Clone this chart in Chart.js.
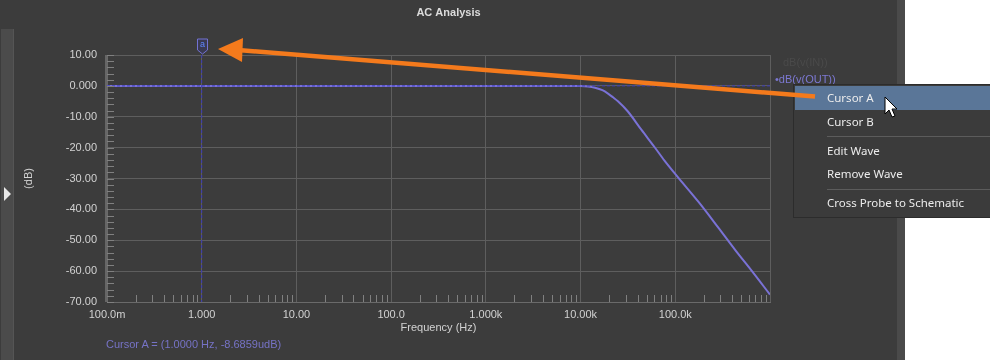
<!DOCTYPE html>
<html>
<head>
<meta charset="utf-8">
<script src="https://cdn.jsdelivr.net/npm/chart.js@4"></script>
<style>
  html,body{margin:0;padding:0;background:#ffffff;width:990px;height:360px;overflow:hidden;font-family:"Liberation Sans",Arial,sans-serif;}
  #panel{position:absolute;left:0;top:0;width:897px;height:360px;background:#3c3c3c;}
  #rstrip{position:absolute;left:897px;top:0;width:8px;height:360px;background:#4a4a4a;}
  #lstrip{position:absolute;left:1px;top:29px;width:12px;height:331px;background:#4b4b4b;border-right:1px solid #555;}
  #ltri{position:absolute;left:4px;top:187px;width:0;height:0;border-top:7px solid transparent;border-bottom:7px solid transparent;border-left:7px solid #e8e8e8;}
  #wrap{position:absolute;left:0;top:0;width:897px;height:360px;}
  .lg{position:absolute;font-size:11px;white-space:nowrap;}
  #cursorTxt{position:absolute;left:106px;top:338px;font-size:11px;color:#7673c6;white-space:nowrap;}
  #menu{position:absolute;left:793px;top:84px;width:200px;height:132px;background:#3b3b3b;border:1px solid #2c2c2c;font-family:"Noto Sans",sans-serif;font-size:11.5px;color:#ececec;}
  .mi{position:absolute;left:33px;white-space:nowrap;line-height:16px;}
  .sep{position:absolute;left:33px;right:0;height:1px;background:#5c5c5c;}
  #hl{position:absolute;left:1px;top:1px;width:199px;height:24px;background:#5a7698;}
  #ov{position:absolute;left:0;top:0;}
</style>
</head>
<body>
<div id="panel"></div>
<div id="rstrip"></div>
<div id="lstrip"></div>
<div id="ltri"></div>
<div id="wrap"><canvas id="c" width="897" height="360"></canvas></div>
<div class="lg" style="left:783px;top:56px;color:#4a4a4a;">dB(v(IN))</div>
<div class="lg" style="left:775px;top:73px;color:#7c78d2;">&#8226;dB(v(OUT))</div>
<div id="cursorTxt">Cursor A = (1.0000 Hz, -8.6859udB)</div>
<div id="menu">
  <div id="hl"></div>
  <div class="mi" style="top:5px;">Cursor A</div>
  <div class="mi" style="top:29px;">Cursor B</div>
  <div class="sep" style="top:51px;"></div>
  <div class="mi" style="top:58px;">Edit Wave</div>
  <div class="mi" style="top:81px;">Remove Wave</div>
  <div class="sep" style="top:104px;"></div>
  <div class="mi" style="top:110px;">Cross Probe to Schematic</div>
</div>
<svg id="ov" width="990" height="360">
  <line x1="815" y1="96.5" x2="238" y2="50" stroke="#f47a1c" stroke-width="4.5"/>
  <polygon points="218,49 243,38 242,62" fill="#f47a1c"/>
  <path d="M885,97 L885,114 L889,110 L892,117 L895,116 L892,109 L897,109 Z" fill="#ffffff" stroke="#000000" stroke-width="1"/>
</svg>
<script>
// ---- data ----
const freqHz = [0.1, 1, 10, 100, 1000, 5000, 10000, 12000, 14200, 17000, 19500, 22000, 24800, 31600, 43800, 60300, 76900, 108000, 176000, 286000, 430000, 645000, 1000000];
const outDb  = [0, 0, 0, 0, 0, 0, -0.05, -0.2, -0.6, -1.4, -2.5, -3.7, -5.0, -8.3, -14.2, -19.8, -24.2, -29.8, -37.6, -46.0, -53.2, -60.0, -67.6];
const xTickValues = [0.1, 1, 10, 100, 1000, 10000, 100000, 1000000];
const xTickLabels = ['100.0m', '1.000', '10.00', '100.0', '1.000k', '10.00k', '100.0k', ''];
const yTickValues = [10, 0, -10, -20, -30, -40, -50, -60, -70];
const yTickLabels = ['10.00', '0.000', '-10.00', '-20.00', '-30.00', '-40.00', '-50.00', '-60.00', '-70.00'];
const cursorAFreq = [1];
const cursorADb = [0];

const xMin = xTickValues[0], xMax = xTickValues[xTickValues.length - 1];
const yMax = yTickValues[0], yMin = yTickValues[yTickValues.length - 1];

const gridColor = '#5e5e5e';
const textColor = '#d2d2d2';
const curveColor = '#7a72d6';
const cursorColor = '#3b3bb8';

const minorTicks = {
  id: 'minorTicks',
  afterDraw(chart) {
    const {ctx, chartArea: a, scales: {x, y}} = chart;
    ctx.save();
    ctx.strokeStyle = '#808080';
    ctx.lineWidth = 1;
    ctx.beginPath();
    for (let i = 0; i < xTickValues.length - 1; i++) {
      for (let k = 2; k <= 9; k++) {
        const px = Math.round(x.getPixelForValue(xTickValues[i] * k)) + 0.5;
        ctx.moveTo(px, a.bottom);
        ctx.lineTo(px, a.bottom - 7);
      }
    }
    for (let v = yMin; v <= yMax; v += 2) {
      const py = Math.round(y.getPixelForValue(v)) + 0.5;
      ctx.moveTo(a.left, py);
      ctx.lineTo(a.left + 7, py);
    }
    ctx.stroke();
    // left axis band
    ctx.strokeStyle = '#666666';
    ctx.lineWidth = 2;
    ctx.beginPath();
    ctx.moveTo(a.left - 1, a.top);
    ctx.lineTo(a.left - 1, a.bottom);
    ctx.stroke();
    // cursor flag
    ctx.lineWidth = 1;
    const cx = Math.round(x.getPixelForValue(cursorAFreq[0])) + 0.5;
    const t = a.top;
    ctx.beginPath();
    ctx.moveTo(cx - 5, t - 16);
    ctx.lineTo(cx + 5, t - 16);
    ctx.lineTo(cx + 5, t - 5);
    ctx.lineTo(cx, t - 1);
    ctx.lineTo(cx - 5, t - 5);
    ctx.closePath();
    ctx.fillStyle = '#3a3a52';
    ctx.fill();
    ctx.strokeStyle = '#7272d4';
    ctx.stroke();
    ctx.fillStyle = '#5f86ff';
    ctx.font = '9px "Liberation Sans", Arial, sans-serif';
    ctx.textAlign = 'center';
    ctx.textBaseline = 'middle';
    ctx.fillText('a', cx, t - 10);
    ctx.restore();
  }
};

new Chart(document.getElementById('c'), {
  type: 'line',
  data: {
    datasets: [
      {
        label: 'cursorV',
        data: [{x: cursorAFreq[0], y: yMax}, {x: cursorAFreq[0], y: yMin}],
        borderColor: cursorColor, borderWidth: 1, borderDash: [3, 2], pointRadius: 0, order: 0
      },
      {
        label: 'cursorH',
        data: [{x: xMin, y: cursorADb[0]}, {x: xMax, y: cursorADb[0]}],
        borderColor: cursorColor, borderWidth: 1, borderDash: [3, 2], pointRadius: 0, order: 0
      },
      {
        label: 'dB(v(OUT))',
        data: freqHz.map((f, i) => ({x: f, y: outDb[i]})),
        borderColor: curveColor, borderWidth: 2, pointRadius: 0, cubicInterpolationMode: 'monotone', order: 1
      }
    ]
  },
  options: {
    responsive: false,
    animation: false,
    devicePixelRatio: 1,
    layout: {padding: 0},
    plugins: {
      legend: {display: false},
      tooltip: {enabled: false},
      title: {
        display: true, text: 'AC Analysis', color: '#dcdcdc',
        font: {family: '"Liberation Sans", Arial, sans-serif', size: 11, weight: 'bold', lineHeight: 1.2},
        padding: {top: 6.4, bottom: 35.4}
      }
    },
    scales: {
      x: {
        type: 'logarithmic', position: 'bottom', min: xMin, max: xMax,
        afterBuildTicks: (s) => { s.ticks = xTickValues.map(v => ({value: v})); },
        afterFit: (s) => { s.height = 58; },
        ticks: {
          autoSkip: false, maxRotation: 0, color: textColor, padding: 6,
          font: {family: '"Liberation Sans", Arial, sans-serif', size: 11},
          callback: (v, i) => xTickLabels[i]
        },
        grid: {color: gridColor, drawTicks: false, lineWidth: 1},
        border: {color: '#6a6a6a', width: 1},
        title: {
          display: true, text: 'Frequency (Hz)', color: textColor,
          font: {family: '"Liberation Sans", Arial, sans-serif', size: 11, lineHeight: 1.2},
          padding: {top: 0, bottom: 25.4}
        }
      },
      y: {
        type: 'linear', position: 'left', min: yMin, max: yMax,
        afterBuildTicks: (s) => { s.ticks = yTickValues.map(v => ({value: v})); },
        afterFit: (s) => { s.width = 107; },
        ticks: {
          color: textColor, padding: 10,
          font: {family: '"Liberation Sans", Arial, sans-serif', size: 11},
          callback: (v) => yTickLabels[yTickValues.indexOf(v)]
        },
        grid: {color: gridColor, drawTicks: false, lineWidth: 1},
        border: {color: '#6a6a6a', width: 1},
        title: {
          display: true, text: '(dB)', color: textColor,
          font: {family: '"Liberation Sans", Arial, sans-serif', size: 11, lineHeight: 1.2},
          padding: {top: 22.4, bottom: 0}
        }
      },
      yR: {
        type: 'linear', position: 'right', display: true,
        afterFit: (s) => { s.width = 127; },
        ticks: {display: false},
        grid: {display: false, drawTicks: false},
        border: {display: false}
      }
    }
  },
  plugins: [minorTicks]
});
</script>
</body>
</html>
